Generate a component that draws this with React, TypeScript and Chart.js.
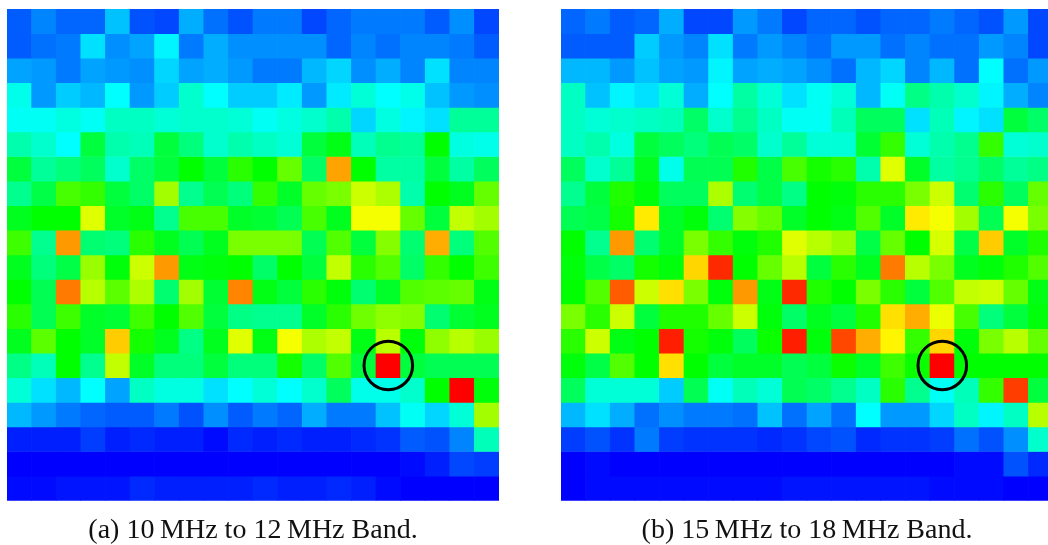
import React, { useEffect, useRef } from "react";
import { Chart, registerables } from "chart.js";

Chart.register(...registerables);

const columns = Array.from({ length: 20 }, (_, i) => String(i));

const band10to12 = [
  [9, 13, 10, 10, 19, 8, 7, 17, 11, 8, 12, 12, 7, 10, 12, 12, 12, 9, 14, 7],
  [9, 11, 12, 22, 14, 16, 24, 12, 17, 14, 14, 14, 14, 10, 13, 11, 13, 13, 12, 9],
  [16, 15, 12, 16, 15, 14, 21, 16, 17, 15, 12, 12, 18, 21, 14, 17, 13, 22, 13, 13],
  [27, 15, 20, 18, 25, 15, 20, 30, 25, 20, 20, 23, 15, 23, 29, 25, 27, 19, 15, 14],
  [26, 26, 28, 26, 31, 31, 29, 30, 30, 29, 26, 28, 30, 33, 21, 28, 24, 22, 35, 35],
  [33, 30, 25, 44, 33, 32, 44, 38, 30, 33, 31, 29, 44, 48, 32, 36, 35, 50, 28, 27],
  [44, 35, 38, 41, 30, 40, 44, 50, 44, 54, 50, 60, 40, 84, 50, 34, 34, 44, 34, 41],
  [36, 43, 57, 55, 44, 40, 66, 36, 42, 38, 55, 46, 60, 62, 70, 67, 33, 50, 47, 60],
  [47, 50, 50, 72, 46, 48, 36, 57, 57, 46, 45, 42, 57, 47, 74, 74, 60, 44, 69, 66],
  [56, 36, 85, 39, 38, 54, 47, 42, 47, 62, 62, 62, 42, 58, 44, 63, 39, 83, 38, 58],
  [47, 38, 43, 65, 49, 70, 85, 48, 49, 50, 40, 50, 44, 69, 54, 58, 40, 55, 50, 56],
  [50, 42, 88, 68, 59, 67, 39, 66, 45, 87, 48, 44, 54, 49, 39, 46, 58, 59, 60, 48],
  [54, 42, 56, 46, 45, 56, 50, 58, 44, 37, 36, 36, 46, 54, 61, 64, 63, 39, 45, 47],
  [47, 59, 50, 46, 80, 52, 47, 37, 47, 72, 48, 74, 67, 69, 48, 68, 49, 64, 68, 65],
  [37, 32, 50, 36, 69, 46, 38, 38, 44, 38, 38, 52, 40, 58, 44, 100, 44, 42, 42, 42],
  [29, 22, 18, 25, 16, 31, 28, 28, 22, 25, 29, 25, 30, 41, 27, 27, 30, 50, 100, 49],
  [18, 15, 12, 10, 9, 9, 12, 8, 14, 9, 12, 10, 17, 12, 12, 19, 26, 21, 29, 66],
  [3, 3, 3, 6, 3, 4, 3, 3, 1, 4, 3, 4, 3, 3, 4, 5, 9, 8, 13, 32],
  [0, 0, 0, 0, 0, 0, 0, 0, 0, 0, 0, 0, 0, 0, 0, 0, 1, 3, 7, 6],
  [1, 1, 2, 2, 2, 4, 3, 3, 3, 3, 4, 3, 3, 4, 3, 1, 0, 0, 0, 0],
];

const band15to18 = [
  [10, 12, 9, 10, 17, 7, 7, 15, 12, 7, 10, 10, 8, 10, 10, 12, 10, 8, 15, 7],
  [9, 9, 9, 20, 15, 13, 22, 12, 15, 13, 11, 15, 15, 11, 13, 11, 11, 15, 13, 7],
  [18, 18, 15, 19, 16, 15, 24, 16, 17, 16, 14, 11, 18, 21, 13, 18, 11, 25, 11, 15],
  [31, 19, 24, 22, 29, 17, 25, 34, 29, 22, 26, 29, 18, 26, 37, 33, 30, 24, 17, 13],
  [31, 29, 30, 31, 32, 40, 30, 36, 31, 26, 26, 32, 41, 41, 22, 32, 24, 22, 44, 40],
  [31, 33, 28, 44, 41, 38, 42, 40, 30, 35, 29, 29, 45, 55, 29, 33, 36, 55, 29, 30],
  [41, 30, 35, 47, 27, 42, 42, 53, 43, 57, 52, 54, 33, 72, 46, 34, 36, 40, 35, 37],
  [36, 44, 53, 49, 41, 41, 67, 39, 43, 37, 50, 49, 54, 54, 62, 70, 39, 54, 41, 60],
  [42, 43, 52, 77, 46, 49, 39, 63, 60, 46, 50, 48, 58, 46, 77, 74, 66, 42, 74, 62],
  [50, 36, 85, 39, 46, 62, 55, 49, 53, 72, 68, 65, 43, 60, 50, 71, 43, 80, 46, 53],
  [49, 43, 40, 52, 49, 79, 96, 50, 60, 68, 44, 54, 47, 88, 68, 62, 47, 49, 53, 58],
  [50, 58, 91, 70, 78, 62, 49, 85, 48, 96, 53, 50, 62, 54, 44, 58, 69, 70, 60, 48],
  [62, 54, 70, 44, 53, 53, 60, 70, 49, 40, 47, 44, 53, 78, 83, 73, 57, 38, 44, 49],
  [54, 70, 48, 50, 97, 52, 49, 41, 51, 97, 49, 93, 83, 76, 55, 79, 49, 62, 68, 60],
  [49, 43, 58, 50, 78, 50, 44, 46, 46, 42, 44, 51, 46, 56, 51, 100, 50, 50, 50, 50],
  [41, 29, 29, 29, 20, 42, 26, 32, 29, 42, 40, 36, 31, 54, 36, 26, 32, 55, 94, 44],
  [18, 22, 17, 11, 14, 12, 12, 11, 19, 11, 16, 11, 25, 15, 15, 21, 31, 24, 31, 68],
  [6, 8, 5, 12, 6, 5, 5, 5, 4, 5, 7, 8, 4, 5, 5, 6, 11, 8, 14, 30],
  [0, 1, 0, 0, 0, 0, 0, 0, 0, 0, 0, 0, 0, 0, 0, 0, 1, 1, 8, 4],
  [0, 1, 1, 1, 1, 1, 1, 1, 1, 2, 2, 2, 2, 2, 2, 1, 1, 1, 0, 0],
];

const markedColumn = "15";
const markedRow = 14;

const captionA = "(a) 10\u2009MHz to 12\u2009MHz Band.";
const captionB = "(b) 15\u2009MHz to 18\u2009MHz Band.";

// value 0..100 -> blue, cyan, green, yellow, red
function heatColor(v: number): string {
  const t = v / 25;
  let r = 0, g = 0, b = 0;
  if (t <= 1) { g = t; b = 1; }
  else if (t <= 2) { g = 1; b = 2 - t; }
  else if (t <= 3) { r = t - 2; g = 1; }
  else { r = 1; g = 4 - t; }
  return `rgb(${Math.round(r * 255)},${Math.round(g * 255)},${Math.round(b * 255)})`;
}

function Panel({ rows, caption, left, paddingLeft, width }: any) {
  const ref = useRef<HTMLCanvasElement>(null);
  useEffect(() => {
    const datasets: any[] = rows.map((row: number[], r: number) => ({
      type: "bar",
      label: `row ${r}`,
      data: row.map(() => [r, r + 1]),
      backgroundColor: row.map(heatColor),
      borderWidth: 0,
      barPercentage: 1,
      categoryPercentage: 1,
      grouped: false,
      order: 1,
    }));
    datasets.push({
      type: "line",
      label: "marker",
      data: [{ x: markedColumn, y: markedRow + 0.5 }],
      showLine: false,
      clip: false,
      pointRadius: 24.3,
      pointBorderWidth: 3,
      pointBorderColor: "#000000",
      pointBackgroundColor: "rgba(0,0,0,0)",
      order: 0,
    });
    const chart = new Chart(ref.current!, {
      data: { labels: columns, datasets },
      options: {
        animation: false,
        responsive: false,
        events: [],
        layout: {
          autoPadding: false,
          padding: { left: paddingLeft, right: width - paddingLeft - 492, top: 9, bottom: 0 },
        },
        plugins: {
          legend: { display: false },
          tooltip: { enabled: false },
          title: {
            display: true,
            text: caption,
            position: "bottom",
            color: "#111111",
            font: { family: "'Liberation Serif', serif", size: 28, weight: "normal", lineHeight: 1 },
            padding: { top: 16.3, bottom: 0 },
          },
        },
        scales: {
          x: { type: "category", display: false, stacked: false, offset: true, grid: { display: false } },
          y: { type: "linear", display: false, min: 0, max: 20, reverse: true, grid: { display: false } },
        },
      },
    } as any);
    return () => chart.destroy();
  }, []);
  return (
    <canvas
      ref={ref}
      width={width}
      height={545}
      style={{ position: "absolute", left, top: 0, width, height: 545 }}
    />
  );
}

export default function App() {
  return (
    <div
      style={{
        position: "fixed",
        left: 0,
        top: 0,
        width: 1048,
        height: 545,
        overflow: "hidden",
        background: "#ffffff",
      }}
    >
      <Panel rows={band10to12} caption={captionA} left={0} paddingLeft={7} width={520} />
      <Panel rows={band15to18} caption={captionB} left={540} paddingLeft={21} width={530} />
    </div>
  );
}
